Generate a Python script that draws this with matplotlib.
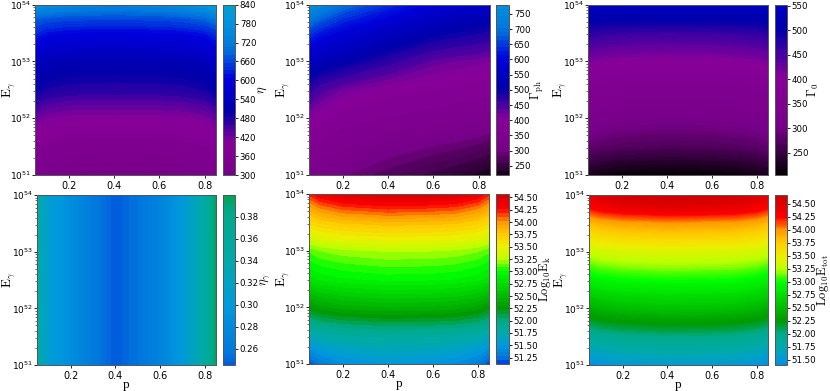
import numpy as np
import matplotlib
matplotlib.use('Agg')
import matplotlib.pyplot as plt
from matplotlib.ticker import FormatStrFormatter, FixedLocator

plt.rcParams['mathtext.fontset'] = 'cm'
plt.rcParams['font.size'] = 7

# grid the values were read on
p = [0.05, 0.1, 0.2, 0.4, 0.6, 0.7, 0.8, 0.85]
log_e = [51, 51.5, 52, 52.5, 53, 53.5, 53.75, 54]
p_eta_gamma = [0.05, 0.1, 0.2, 0.3, 0.4, 0.5, 0.6, 0.7, 0.8, 0.85]

eta = [
    [340, 325, 310, 300, 305, 312, 325, 345],
    [370, 355, 348, 345, 347, 350, 358, 375],
    [425, 410, 402, 400, 402, 405, 412, 428],
    [500, 482, 473, 470, 472, 475, 485, 505],
    [550, 530, 522, 520, 522, 525, 533, 555],
    [635, 615, 603, 600, 603, 607, 618, 640],
    [680, 670, 662, 658, 662, 668, 685, 710],
    [790, 765, 745, 735, 745, 760, 790, 840],
]
gamma_ph = [
    [330, 315, 298, 275, 252, 242, 228, 220],
    [360, 350, 338, 310, 295, 288, 278, 270],
    [405, 390, 370, 358, 345, 338, 330, 325],
    [470, 445, 420, 395, 385, 380, 375, 370],
    [545, 530, 510, 470, 430, 422, 415, 410],
    [645, 620, 590, 545, 510, 498, 488, 480],
    [710, 680, 640, 590, 545, 530, 520, 515],
    [780, 745, 700, 640, 590, 575, 562, 555],
]
gamma_0 = [
    [225, 218, 210, 205, 208, 212, 218, 225],
    [285, 278, 272, 268, 270, 273, 278, 285],
    [325, 318, 312, 308, 310, 313, 318, 325],
    [358, 352, 347, 344, 346, 348, 352, 358],
    [412, 407, 402, 398, 400, 403, 407, 412],
    [472, 466, 461, 458, 460, 462, 466, 472],
    [510, 508, 506, 505, 505, 506, 508, 510],
    [552, 550, 547, 545, 546, 548, 550, 552],
]
eta_gamma = [
    [0.35, 0.31, 0.285, 0.26, 0.245, 0.255, 0.27, 0.30, 0.35, 0.40],
    [0.35, 0.31, 0.285, 0.26, 0.245, 0.255, 0.27, 0.30, 0.35, 0.40],
]
log_ek = [
    [51.12, 51.28, 51.41, 51.5, 51.46, 51.41, 51.29, 51.12],
    [51.7, 51.76, 51.81, 51.85, 51.84, 51.82, 51.77, 51.7],
    [52.25, 52.33, 52.4, 52.45, 52.43, 52.41, 52.34, 52.25],
    [52.8, 52.86, 52.91, 52.95, 52.94, 52.92, 52.87, 52.8],
    [53.1, 53.16, 53.21, 53.25, 53.24, 53.22, 53.17, 53.1],
    [53.65, 53.73, 53.8, 53.85, 53.83, 53.81, 53.74, 53.65],
    [53.9, 54.02, 54.13, 54.2, 54.17, 54.14, 54.03, 53.9],
    [54.2, 54.35, 54.48, 54.57, 54.54, 54.5, 54.37, 54.2],
]
log_etot = [
    [51.4, 51.46, 51.51, 51.55, 51.54, 51.52, 51.47, 51.4],
    [51.85, 51.91, 51.96, 52.0, 51.99, 51.97, 51.92, 51.85],
    [52.4, 52.46, 52.51, 52.55, 52.54, 52.52, 52.47, 52.4],
    [52.88, 52.93, 52.97, 53.0, 52.99, 52.98, 52.93, 52.88],
    [53.3, 53.34, 53.38, 53.4, 53.39, 53.38, 53.35, 53.3],
    [53.82, 53.88, 53.94, 53.98, 53.96, 53.95, 53.89, 53.82],
    [54.2, 54.28, 54.35, 54.4, 54.38, 54.36, 54.29, 54.2],
    [54.42, 54.52, 54.61, 54.67, 54.65, 54.62, 54.53, 54.42],
]

# x0, x1 of each panel and its colourbar in pixels, y0, y1 of each row
W, H = 830, 391
panel_x = [(35, 216), (309, 490), (588, 768), (37, 216), (309, 489), (589, 768)]
cbar_x = [(223, 235), (496, 509), (775, 787), (223, 235), (496, 509), (775, 787)]
rows_y = [(4.7, 175), (4.7, 175), (4.7, 175), (195, 365), (194, 364), (195, 365)]
ylabel_x = [9, 283, 560, 9, 283, 561]
clabel_x = [262, 537, 813, 265, 545, 823]

panels = [
    (p, log_e, eta, r'$\eta$', 200, 2200, 45, np.arange(300, 841, 60), '%d'),
    (p, log_e, gamma_ph, r'$\Gamma_{\mathrm{ph}}$', 200, 2200, 45, np.arange(250, 751, 50), '%d'),
    (p, log_e, gamma_0, r'$\Gamma_0$', 200, 2200, 120, np.arange(250, 551, 50), '%d'),
    (p_eta_gamma, [51, 54], eta_gamma, r'$\eta_\gamma$', 0.04, 0.9, 150, np.arange(0.26, 0.39, 0.02), '%.2f'),
    (p, log_e, log_ek, r'$\mathrm{Log_{10}E_k}$', 50, 55, 45, np.arange(51.25, 54.51, 0.25), '%.2f'),
    (p, log_e, log_etot, r'$\mathrm{Log_{10}E_{tot}}$', 50, 55, 150, np.arange(51.5, 54.51, 0.25), '%.2f'),
]

fig = plt.figure(figsize=(W / 100, H / 100), dpi=100)

for i, (xs, ys, z, label, vmin, vmax, n, cticks, cfmt) in enumerate(panels):
    (x0, x1), (cx0, cx1), (y0, y1) = panel_x[i], cbar_x[i], rows_y[i]
    ax = fig.add_axes([x0 / W, 1 - y1 / H, (x1 - x0) / W, (y1 - y0) / H])
    cax = fig.add_axes([cx0 / W, 1 - y1 / H, (cx1 - cx0) / W, (y1 - y0) / H])

    z = np.array(z)
    levels = np.linspace(z.min(), z.max(), n)
    cs = ax.contourf(xs, ys, z, levels=levels, cmap='nipy_spectral', vmin=vmin, vmax=vmax)

    ax.set_xlim(0.05, 0.85)
    ax.set_ylim(51, 54)
    ax.set_xticks([0.2, 0.4, 0.6, 0.8])
    ax.set_yticks([51, 52, 53, 54])
    ax.yaxis.set_major_formatter(FormatStrFormatter(r'$\mathregular{10^{%d}}$'))
    minor = [d + np.log10(m) for d in (51, 52, 53) for m in range(2, 10)]
    ax.yaxis.set_minor_locator(FixedLocator(minor))
    ax.tick_params(axis='x', labelsize=7, length=2, width=0.6, pad=2)
    ax.tick_params(axis='y', labelsize=6.5, length=2, width=0.6, pad=1)
    ax.tick_params(axis='y', which='minor', length=1.2, width=0.4)
    ax.set_ylabel(r'$\mathrm{E_\gamma}$', fontsize=9.5, va='center')
    ax.yaxis.set_label_coords((ylabel_x[i] - x0) / (x1 - x0), 0.5)
    if i >= 3:
        ax.set_xlabel('p', fontsize=9.5, family='Liberation Serif', va='center')
        ax.xaxis.set_label_coords(0.5, -20.0 / (y1 - y0))
    for s in ax.spines.values():
        s.set_linewidth(0.7)
        s.set_color('#555555')

    cb = fig.colorbar(cs, cax=cax)
    cb.set_ticks(cticks)
    cb.ax.yaxis.set_major_formatter(FormatStrFormatter(cfmt))
    cb.ax.tick_params(labelsize=6.2, length=2, width=0.6, pad=1.5)
    cb.set_label(label, fontsize=9, rotation=90, va='center')
    cb.ax.yaxis.set_label_coords((clabel_x[i] - cx0) / (cx1 - cx0), 0.5)
    cb.outline.set_linewidth(0.7)
    cb.outline.set_edgecolor('#555555')

plt.savefig('out.png', dpi=100)
